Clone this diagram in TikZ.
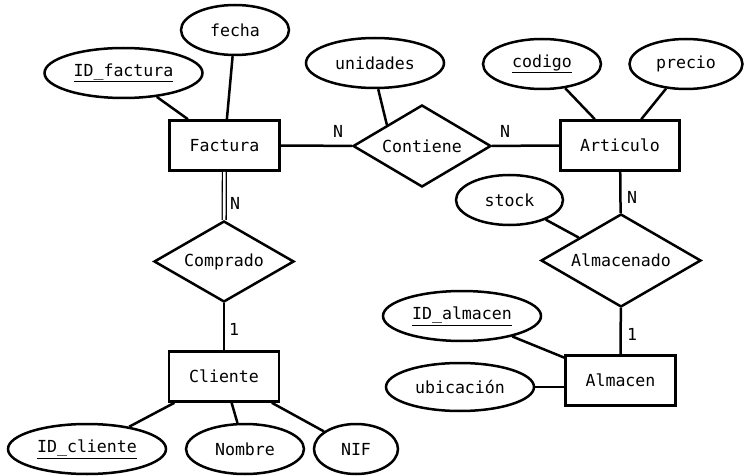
\documentclass[tikz,border=0pt]{standalone}
\usepackage{fontspec}
\setmainfont{DejaVu Sans Mono}
\usetikzlibrary{shapes.geometric}
\begin{document}
\begin{tikzpicture}[x=1pt,y=-1pt,
    font=\fontsize{16.6}{20}\selectfont,
    every node/.style={inner sep=0pt},
    entity/.style={draw,line width=2.6pt,rectangle,minimum width=110pt,minimum height=50pt},
    attrib/.style={draw,line width=2.5pt,ellipse,minimum height=50pt},
    relation/.style={draw,line width=2.5pt,diamond,aspect=1.7}]
      \useasboundingbox (0,0) rectangle (745,476);
      \draw
        (224.5,145.5) node[entity] (factura){Factura}
        (620,145.5) node[entity,minimum width=119pt] (articulo){Articulo}
        (224,376.5) node[entity] (cliente){Cliente}
        (620.5,380.5) node[entity] (almacen){Almacen}
        (422,146) node[relation,minimum width=138pt,minimum height=82pt] (contiene){Contiene}
        (224,261.5) node[relation,minimum width=140pt,minimum height=81pt] (comprado){Comprado}
        (621,260.5) node[relation,minimum width=160pt,minimum height=93pt] (almacenado){Almacenado}
        (123.5,73) node[attrib,minimum width=158pt] (idfactura){\underline{ID\_factura}}
        (235,30) node[attrib,minimum width=108pt] (fecha){fecha}
        (375,63) node[attrib,minimum width=138pt] (unidades){unidades}
        (542,64) node[attrib,minimum width=118pt] (codigo){\underline{codigo}}
        (686,64) node[attrib,minimum width=113pt] (precio){precio}
        (509.5,200) node[attrib,minimum width=107pt] (stock){stock}
        (462,316) node[attrib,minimum width=158pt] (idalmacen){\underline{ID\_almacen}}
        (460,387) node[attrib,minimum width=148pt,minimum height=48pt] (ubicacion){ubicación}
        (87,449) node[attrib,minimum width=158pt] (idcliente){\underline{ID\_cliente}}
        (245,449) node[attrib,minimum width=118pt] (nombre){Nombre}
        (356,449) node[attrib,minimum width=84pt] (nif){NIF};
      \draw
        (338,131) node (n1){N}
        (505,131) node (n2){N}
        (235,203) node (n3){N}
        (632,197) node (n4){N}
        (234,329) node (c1){1}
        (632,334) node (c2){1};
      \begin{scope}[-,line width=2.5pt]
        \draw (factura) to (contiene);
        \draw (contiene) to (articulo);
        \draw (articulo) to (almacenado);
        \draw (almacenado) to (almacen);
        \draw (comprado) to (cliente);
        \draw[double,double distance=2.6pt,line width=1.3pt] (factura) to (comprado);
        \draw (idfactura) to (factura);
        \draw (fecha) to (factura);
        \draw (unidades.-83) to (contiene.north west);
        \draw (codigo) to (articulo);
        \draw (precio) to (articulo);
        \draw (stock) to (almacenado);
        \draw (idalmacen) to (almacen);
        \draw (ubicacion) to (ubicacion -| almacen.west);
        \draw (idcliente) to (cliente);
        \draw (nombre) to (cliente);
        \draw (nif) to (cliente);
      \end{scope}
    \end{tikzpicture}
\end{document}
